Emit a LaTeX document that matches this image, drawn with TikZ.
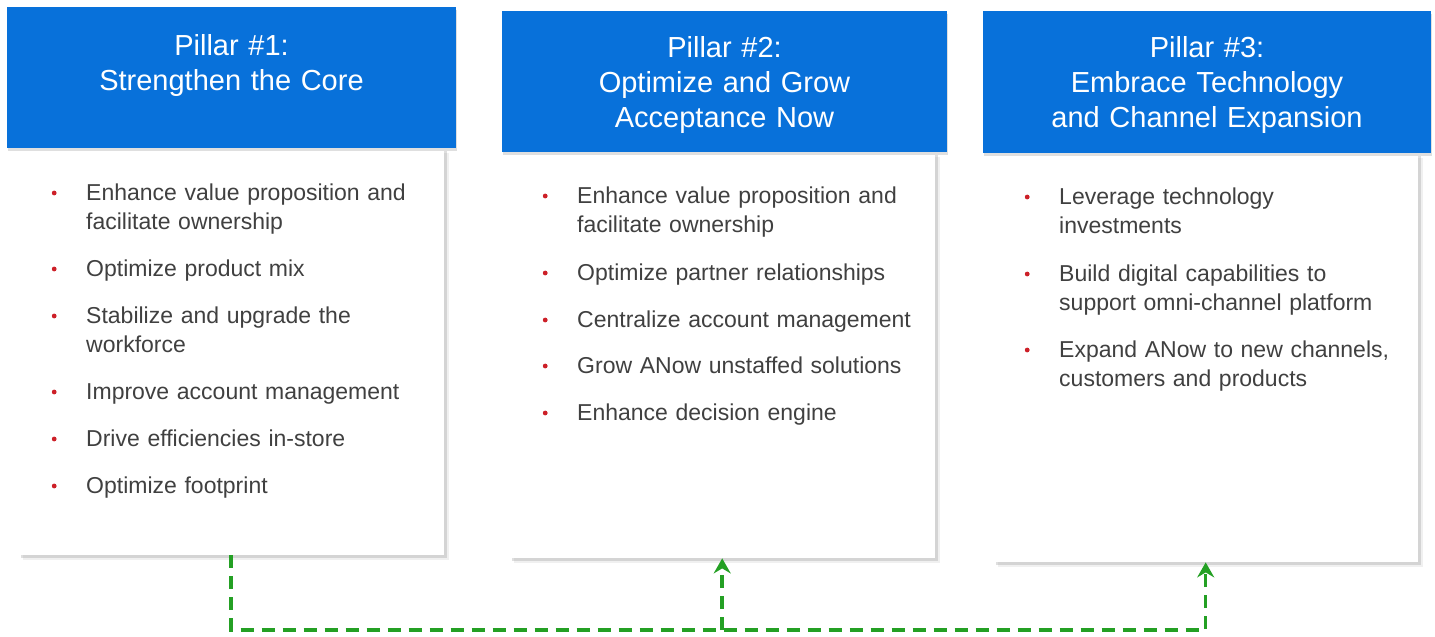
\documentclass[tikz,border=0pt]{standalone}
\usepackage{fontspec}
\setmainfont{Liberation Sans}
\usetikzlibrary{arrows.meta,shadows}
\definecolor{pillarblue}{RGB}{8,113,218}
\definecolor{dotred}{RGB}{205,32,40}
\definecolor{itemgrey}{RGB}{64,64,64}
\definecolor{linkgreen}{RGB}{36,160,36}
\newcommand{\bul}{\llap{\tikz[baseline=0pt, x=1cm, y=1cm]\fill[dotred] (0,7pt) circle (2.4pt);\hspace{29.6pt}}}

\begin{document}
\begin{tikzpicture}[x=1pt, y=-1pt,
    head/.style={rectangle, fill=pillarblue, anchor=north west, inner sep=0pt, drop shadow={shadow xshift=1pt, shadow yshift=-3pt, opacity=0.25}},
    body/.style={rectangle, fill=white, anchor=north west, inner sep=0pt,
        drop shadow={shadow xshift=5pt, shadow yshift=-5pt, opacity=0.12},
        drop shadow={shadow xshift=3pt, shadow yshift=-3pt, opacity=0.25}},
    title/.style={anchor=base, text=white, text width=440pt, align=center, inner sep=0pt, font=\fontsize{29}{35}\selectfont},
    item/.style={anchor=base west, text=itemgrey, text width=345pt, align=left, inner sep=0pt, font=\fontsize{23}{29.5}\selectfont},
    link/.style={linkgreen, line width=3.5pt, dash pattern=on 13pt off 8pt},
    arrowtip/.style={-{Stealth[length=15pt, width=17pt, inset=5pt]}}
]
    \useasboundingbox (0,0) rectangle (1435,637);

    % white panels
    \node[body, minimum width=426pt, minimum height=407pt] (body1) at (18,148) {};
    \node[body, minimum width=426pt, minimum height=406pt] (body2) at (509,152) {};
    \node[body, minimum width=425pt, minimum height=409pt] (body3) at (993,153) {};

    % blue headers
    \node[head, minimum width=449pt, minimum height=141pt] (head1) at (7,7) {};
    \node[head, minimum width=445pt, minimum height=141pt] (head2) at (502,11) {};
    \node[head, minimum width=448pt, minimum height=142pt] (head3) at (983,11) {};

    \node[title] (title1) at (231.5,55) {Pillar \#1:\\Strengthen the Core};
    \node[title] (title2) at (724.5,57) {Pillar \#2:\\Optimize and Grow\\Acceptance Now};
    \node[title] (title3) at (1207,57) {Pillar \#3:\\Embrace Technology\\and Channel Expansion};

    % Pillar 1
    \node[item] (core1) at (86,200) {\bul Enhance value proposition and\\facilitate ownership};
    \node[item] (core2) at (86,276) {\bul Optimize product mix};
    \node[item] (core3) at (86,323) {\bul Stabilize and upgrade the\\workforce};
    \node[item] (core4) at (86,399) {\bul Improve account management};
    \node[item] (core5) at (86,446) {\bul Drive efficiencies in-store};
    \node[item] (core6) at (86,493) {\bul Optimize footprint};

    % Pillar 2
    \node[item] (grow1) at (577,203) {\bul Enhance value proposition and\\facilitate ownership};
    \node[item] (grow2) at (577,280) {\bul Optimize partner relationships};
    \node[item] (grow3) at (577,327) {\bul Centralize account management};
    \node[item] (grow4) at (577,373) {\bul Grow ANow unstaffed solutions};
    \node[item] (grow5) at (577,420) {\bul Enhance decision engine};

    % Pillar 3
    \node[item] (tech1) at (1059,204) {\bul Leverage technology\\investments};
    \node[item] (tech2) at (1059,281) {\bul Build digital capabilities to\\support omni-channel platform};
    \node[item] (tech3) at (1059,357) {\bul Expand ANow to new channels,\\customers and products};

    % green links
    \coordinate (rail) at (0,630);
    \draw[link, arrowtip] (body1.south) -- (body1.south |- rail) -| (body3.south);
    \draw[link, arrowtip] (body2.south |- rail) -- (body2.south);
\end{tikzpicture}
\end{document}
